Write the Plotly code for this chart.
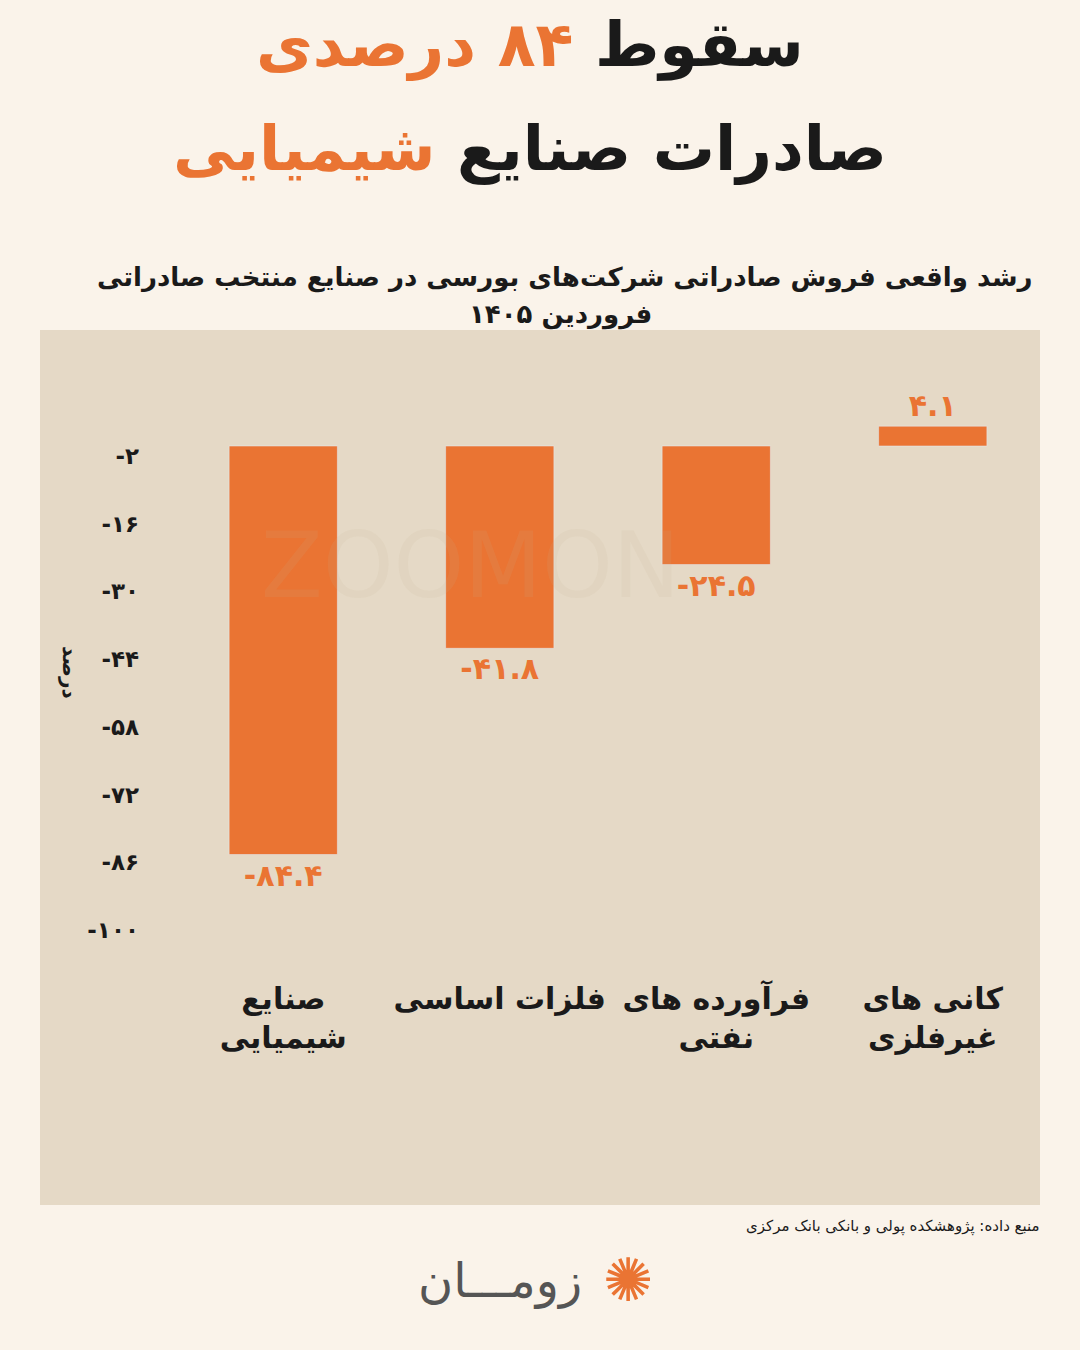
import plotly.graph_objects as go

categories = ["<b>صنایع<br>شیمیایی</b>", "<b>فلزات اساسی</b>", "<b>فرآورده های<br>نفتی</b>", "<b>کانی های<br>غیرفلزی</b>"]
values = [-84.4, -41.8, -24.5, 4.1]
tick_vals = [-2, -16, -30, -44, -58, -72, -86, -100]

def fa(x):
    tr = str.maketrans("0123456789", "۰۱۲۳۴۵۶۷۸۹")
    return str(x).translate(tr)

tick_text = ["<b>" + fa(v) + "</b>" for v in tick_vals]
labels = ["<b>" + fa(v) + "</b>" for v in values]

ORANGE = "#EA7433"
FONT = "DejaVu Sans"
H = 1350
top, bottom = 380, 950
px = 4.84
yr = [-(bottom - 446) / px, (446 - top) / px]

fig = go.Figure(go.Bar(
    x=categories, y=values, marker_color=ORANGE, text=labels,
    textposition="outside", cliponaxis=False,
    textfont=dict(size=30, color=ORANGE, family=FONT),
))

fig.update_layout(
    width=1080, height=H, paper_bgcolor="#FAF3EA", plot_bgcolor="rgba(0,0,0,0)",
    margin=dict(l=175, r=39, t=top, b=H - bottom),
    bargap=0.5, showlegend=False,
    font=dict(family=FONT, color="#1a1a1a"),
    xaxis=dict(showgrid=False, zeroline=False, showline=False, ticks="",
               tickfont=dict(size=30, color="#1a1a1a", family=FONT), ticklabelstandoff=28),
    yaxis=dict(range=yr, showgrid=False, zeroline=False, showline=False,
               tickvals=tick_vals, ticktext=tick_text, ticks="", ticklabelstandoff=35,
               tickfont=dict(size=23, color="#1a1a1a", family=FONT)),
    shapes=[dict(type="rect", xref="paper", yref="paper", layer="below",
                 x0=(40 - 175) / 866, x1=(1040 - 175) / 866,
                 y0=(bottom - 1205) / (bottom - top), y1=(bottom - 330) / (bottom - top),
                 fillcolor="#E5D9C6", line_width=0)],
)

def page(text, x, y, size, color="#1a1a1a", **kw):
    fig.add_annotation(text=text, x=(x - 175) / 866, y=(bottom - y) / (bottom - top),
                       xref="paper", yref="paper", showarrow=False,
                       font=dict(size=size, color=color, family=FONT),
                       xanchor=kw.pop("xanchor", "center"), yanchor="middle", **kw)

page("ZOOMON", 470, 565, 90, "rgba(200,180,150,0.12)")
page("<b>سقوط <span style='color:%s'>۸۴ درصدی</span></b>" % ORANGE, 530, 45, 62)
page("<b>صادرات صنایع <span style='color:%s'>شیمیایی</span></b>" % ORANGE, 530, 148, 62)
page("<b>رشد واقعی فروش صادراتی شرکت‌های بورسی در صنایع منتخب صادراتی</b>", 565, 277, 26)
page("<b>فروردین ۱۴۰۵</b>", 560, 314, 26)
page("<b>درصد</b>", 70, 672, 20, textangle=90)
page("منبع داده: پژوهشکده پولی و بانکی بانک مرکزی", 1042, 1226, 15, xanchor="right")
page("زومـــان", 500, 1280, 48, "#555555")
page("✺", 628, 1280, 60, ORANGE)

fig.write_html("out.html", post_script="document.body.style.margin='0';",
               config={"displayModeBar": False})
